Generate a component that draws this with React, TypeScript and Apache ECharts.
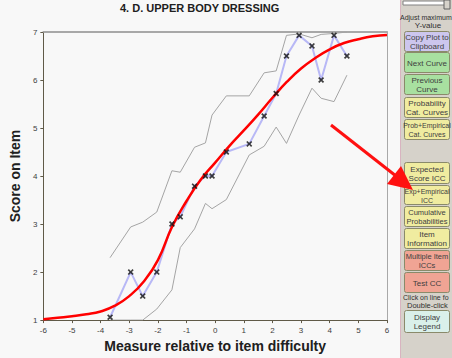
import React, { useEffect, useRef } from "react";
import * as echarts from "echarts";

const titleText = "4. D. UPPER BODY DRESSING";
const xName = "Measure relative to item difficulty";
const yName = "Score on Item";

const pointX = [-3.67, -2.95, -2.53, -2.04, -1.51, -1.22, -0.72, -0.34, -0.11, 0.39, 1.19, 1.71, 2.13, 2.49, 2.93, 3.38, 3.7, 4.15, 4.6];
const empirical = [1.06, 2.0, 1.5, 2.0, 3.0, 3.15, 3.79, 4.0, 4.0, 4.5, 4.67, 5.25, 5.72, 6.5, 6.93, 6.71, 6.0, 6.93, 6.5];
const upperBand = [2.3, 2.94, 3.04, 3.25, 4.11, 4.08, 4.6, 4.69, 5.27, 5.67, 5.67, 6.15, 6.19, 6.93, 6.96, 6.88, 6.95, 6.97, 7.0];
const lowerBand = [1.0, 1.0, 1.0, 1.23, 1.63, 2.51, 2.9, 3.43, 3.32, 3.51, 4.44, 4.62, 5.02, 4.68, 5.27, 5.83, 5.62, 5.55, 6.1];

const curveX = [-6, -5.5, -5, -4.5, -4, -3.5, -3, -2.5, -2, -1.5, -1, -0.5, 0, 0.5, 1, 1.5, 2, 2.5, 3, 3.5, 4, 4.5, 5, 5.5, 6];
const curveY = [1.02, 1.05, 1.08, 1.12, 1.18, 1.3, 1.5, 1.8, 2.25, 2.95, 3.48, 3.93, 4.28, 4.63, 4.95, 5.28, 5.63, 5.96, 6.24, 6.46, 6.64, 6.77, 6.85, 6.91, 6.94];

const buttons = [
  { label: "Copy Plot to\nClipboard", top: 31, h: 20, fill: "#ccc6ee", size: 8 },
  { label: "Next Curve", top: 52, h: 20, fill: "#a8e0a0", size: 8 },
  { label: "Previous\nCurve", top: 74, h: 20, fill: "#a8e0a0", size: 8 },
  { label: "Probability\nCat. Curves", top: 97, h: 20, fill: "#f0eca0", size: 8 },
  { label: "Prob+Empirical\nCat. Curves", top: 119, h: 20, fill: "#f0eca0", size: 7 },
  { label: "Expected\nScore ICC", top: 162, h: 21, fill: "#f0eca0", size: 8 },
  { label: "Exp+Empirical\nICC", top: 185, h: 19, fill: "#f0eca0", size: 7 },
  { label: "Cumulative\nProbabilities", top: 206, h: 20, fill: "#f0eca0", size: 7.5 },
  { label: "Item\nInformation", top: 228, h: 20, fill: "#f0eca0", size: 8 },
  { label: "Multiple Item\nICCs", top: 250, h: 20, fill: "#f0a494", size: 7.5 },
  { label: "Test CC", top: 272, h: 20, fill: "#f0a494", size: 8 },
  { label: "Display\nLegend", top: 310, h: 22, fill: "#daf0ea", size: 8 },
];

const FONT = "Liberation Sans, Arial, sans-serif";

export default function App() {
  const ref = useRef<HTMLDivElement>(null);
  useEffect(() => {
    if (!ref.current) return;
    const chart = echarts.init(ref.current, null, { renderer: "svg" });
    const pts = (ys: number[]) => pointX.map((x, i) => [x, ys[i]]);
    const panel: any[] = [
      { type: "rect", shape: { x: 401, y: 0, width: 51, height: 358 }, style: { fill: "#d6d2ca" }, z: 10 },
      { type: "line", shape: { x1: 400.5, y1: 0, x2: 400.5, y2: 358 }, style: { stroke: "#d8b4c0", lineWidth: 1 }, z: 11 },
      { type: "rect", shape: { x: 403, y: 1, width: 44, height: 4 }, style: { fill: "#ffffff", stroke: "#808080", lineWidth: 1 }, z: 11 },
      { type: "rect", shape: { x: 444, y: 0, width: 6, height: 9 }, style: { fill: "#d6d2ca", stroke: "#606060", lineWidth: 1 }, z: 12 },
      { type: "text", style: { text: "Adjust maximum", x: 400, y: 17, fill: "#303030", font: "7px " + FONT, align: "left", verticalAlign: "middle" }, z: 12 },
      { type: "text", style: { text: "Y-value", x: 428, y: 25, fill: "#303030", font: "8px " + FONT, align: "center", verticalAlign: "middle" }, z: 12 },
      { type: "text", style: { text: "Click on line fo", x: 403, y: 297, fill: "#303030", font: "7px " + FONT, align: "left", verticalAlign: "middle" }, z: 12 },
      { type: "text", style: { text: "Double-click", x: 407, y: 305, fill: "#303030", font: "7.5px " + FONT, align: "left", verticalAlign: "middle" }, z: 12 },
    ];
    buttons.forEach((b) => {
      panel.push({
        type: "rect",
        shape: { x: 404.5, y: b.top + 0.5, width: 45, height: b.h, r: 2 },
        style: { fill: b.fill, stroke: "#8a8a6a", lineWidth: 1 },
        z: 12,
      });
      panel.push({
        type: "text",
        style: {
          text: b.label,
          x: 427,
          y: b.top + b.h / 2 + 1,
          fill: "#404040",
          font: b.size + "px " + FONT,
          align: "center",
          verticalAlign: "middle",
          lineHeight: 9,
        },
        z: 13,
      });
    });
    // annotation arrow
    panel.push({ type: "line", shape: { x1: 331, y1: 125, x2: 396, y2: 176 }, style: { stroke: "#ff1010", lineWidth: 3 }, z: 20 });
    panel.push({ type: "polygon", shape: { points: [[413, 190], [387, 184], [401, 166]] }, style: { fill: "#ff1010" }, z: 20 });
    panel.push({
      type: "text",
      style: { text: titleText, x: 120, y: 8, fill: "#202020", font: "bold 11px " + FONT, align: "left", verticalAlign: "middle" },
      z: 5,
    });

    chart.setOption({
      animation: false,
      backgroundColor: "#f8f8f8",
      grid: { left: 30, right: 65, top: 32, bottom: 37 },
      xAxis: [
        {
          type: "value",
          min: -6,
          max: 6,
          interval: 1,
          name: xName,
          nameLocation: "middle",
          nameGap: 18,
          nameTextStyle: { fontFamily: FONT, fontWeight: "bold", fontSize: 14, color: "#202020" },
          axisLine: { show: true, onZero: false, lineStyle: { color: "#605a48", width: 1 } },
          axisTick: { show: true, length: 3, lineStyle: { color: "#605a48" } },
          axisLabel: { fontFamily: FONT, fontSize: 8, color: "#404040", margin: 6 },
          splitLine: { show: false },
        },
        {
          type: "value",
          position: "top",
          min: -6,
          max: 6,
          axisLine: { show: true, onZero: false, lineStyle: { color: "#a8a8a8", width: 2 } },
          axisTick: { show: false },
          axisLabel: { show: false },
          splitLine: { show: false },
        },
      ],
      yAxis: [
        {
          type: "value",
          min: 1,
          max: 7,
          interval: 1,
          name: yName,
          nameLocation: "middle",
          nameGap: 12,
          nameTextStyle: { fontFamily: FONT, fontWeight: "bold", fontSize: 14, color: "#202020" },
          axisLine: { show: true, onZero: false, lineStyle: { color: "#605a48", width: 1 } },
          axisTick: { show: true, length: 3, lineStyle: { color: "#605a48" } },
          axisLabel: { fontFamily: FONT, fontSize: 8, color: "#404040", margin: 6 },
          splitLine: { show: false },
        },
        {
          type: "value",
          position: "right",
          min: 1,
          max: 7,
          axisLine: { show: true, onZero: false, lineStyle: { color: "#a8a8a8", width: 1 } },
          axisTick: { show: false },
          axisLabel: { show: false },
          splitLine: { show: false },
        },
      ],
      series: [
        {
          type: "line",
          data: pts(upperBand),
          symbol: "none",
          lineStyle: { color: "#a4a4a4", width: 1 },
          z: 2,
        },
        {
          type: "line",
          data: pts(lowerBand),
          symbol: "none",
          lineStyle: { color: "#a4a4a4", width: 1 },
          z: 2,
        },
        {
          type: "line",
          data: pts(empirical),
          symbol: "none",
          lineStyle: { color: "#b8b8f6", width: 2 },
          z: 3,
        },
        {
          type: "line",
          data: curveX.map((x, i) => [x, curveY[i]]),
          smooth: true,
          symbol: "none",
          lineStyle: { color: "#ff0000", width: 2.5 },
          z: 4,
        },
        {
          type: "scatter",
          data: pts(empirical),
          symbol: "path://M0,2L2,0L5,3L8,0L10,2L7,5L10,8L8,10L5,7L2,10L0,8L3,5Z",
          symbolSize: 6,
          itemStyle: { color: "#101010" },
          z: 5,
        },
      ],
      graphic: panel,
    });
    return () => chart.dispose();
  }, []);
  return <div ref={ref} style={{ position: "fixed", left: 0, top: 0, width: 452, height: 358 }} />;
}
